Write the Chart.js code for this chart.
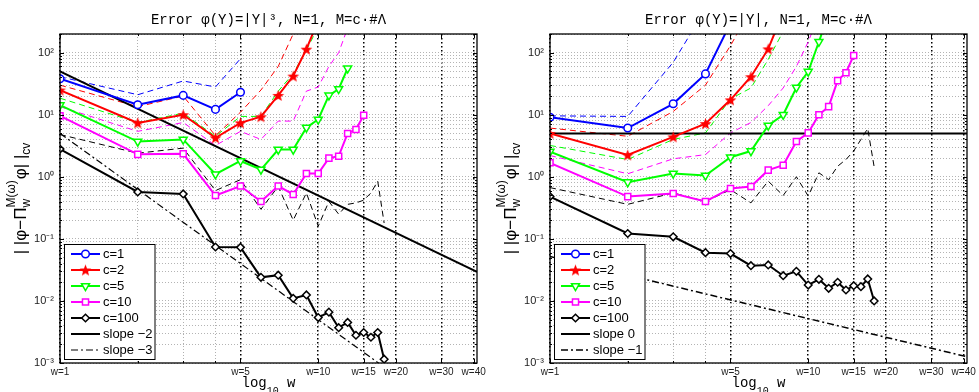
<!DOCTYPE html>
<html>
<head>
<meta charset="utf-8">
<title>Error vs w</title>
<script src="https://cdn.jsdelivr.net/npm/chart.js@4.4.1/dist/chart.umd.min.js"></script>
<style>
  html, body { margin: 0; padding: 0; background: #fff; overflow: hidden; }
  #wrap { position: relative; width: 979px; height: 392px; }
  #wrap canvas { position: absolute; top: 0; }
</style>
</head>
<body>
<div id="wrap">
  <canvas id="errCubic" width="490" height="392" style="left:0"></canvas>
  <canvas id="errAbs" width="489" height="392" style="left:490px"></canvas>
</div>
<script>
// polynomial degree w on the x axis
const wValues = [1, 2, 3, 4, 5, 6, 7, 8, 9, 10, 11, 12, 13, 14, 15, 16, 17, 18];

// left panel: phi(Y) = |Y|^3   (solid = marked series, dashed = companion curves)
const cubicC1   = [38, 14.5, 20.5, 12.2, 23];
const cubicC2   = [25, 7.4, 10, 4.25, 7.4, 9.3, 20.5, 42, 114, 330];
const cubicC5   = [14.3, 3.7, 4.0, 1.1, 1.8, 1.31, 2.75, 2.75, 6.2, 8.4, 20.5, 26, 56];
const cubicC10  = [9.6, 2.3, 2.35, 0.5, 0.71, 0.40, 0.71, 0.52, 1.13, 1.13, 2.0, 2.15, 5.0, 5.8, 9.8];
const cubicC100 = [2.8, 0.57, 0.53, 0.074, 0.073, 0.024, 0.026, 0.011, 0.0125, 0.0054, 0.0066, 0.0037, 0.0045, 0.0028, 0.0031, 0.0026, 0.0031, 0.00115];
const cubicC1d   = [41, 21, 35, 28, 80];
const cubicC2d   = [30, 13.5, 20, 4.6, 11, 25, 60, 200, 500];
const cubicC5d   = [18.5, 7.5, 10.6, 4.5, 9.4, 9.4, 24, 46, 110, 260];
const cubicC10d  = [13.5, 5.4, 7.5, 3.2, 5.4, 4.0, 7.9, 7.9, 24, 28, 60, 100, 250];
const cubicC100d = [4.8, 2.4, 2.9, 0.6, 0.9, 0.30, 0.70, 0.20, 0.55, 0.16, 0.40, 0.25, 0.36, 0.38, 0.42, 0.55, 0.85, 0.18];
const cubicSlopeX  = [1, 41.2];
const cubicSlopeM2 = [50, 0.0295];
const cubicSlopeM3 = [5, 0.0000715];

// right panel: phi(Y) = |Y|
const absC1   = [9.1, 6.1, 15, 45.5, 300];
const absC2   = [5.0, 2.25, 4.4, 7.2, 17.4, 41, 115, 450];
const absC5   = [2.55, 0.82, 1.13, 1.05, 2.07, 2.6, 6.7, 10, 27.5, 49.5, 150, 420];
const absC10  = [1.68, 0.48, 0.54, 0.40, 0.65, 0.70, 1.28, 1.54, 3.7, 5.1, 10, 13.5, 35.5, 47.5, 90];
const absC100 = [0.48, 0.122, 0.108, 0.060, 0.058, 0.037, 0.038, 0.0255, 0.030, 0.018, 0.0223, 0.016, 0.020, 0.015, 0.0176, 0.017, 0.0226, 0.010];
const absC1d   = [9.6, 9.4, 70, 500];
const absC2d   = [6.1, 4.5, 11.3, 30, 130, 500];
const absC5d   = [3.2, 1.9, 4.0, 5.1, 18, 27, 78, 220, 600];
const absC10d  = [2.2, 1.12, 1.95, 2.28, 5.1, 7.5, 14, 27, 60, 150, 400];
const absC100d = [0.67, 0.36, 0.55, 0.40, 0.62, 0.38, 0.85, 0.50, 1.0, 0.49, 1.16, 0.9, 1.48, 1.9, 2.6, 4.0, 6.0, 1.45];
const absSlopeX  = [1, 41.2];
const absSlope0  = [5, 5];
const absSlopeM1 = [0.052, 0.00126];

// axes
const xTickValues = [1, 5, 10, 15, 20, 30, 40];
const xTickLabels = ['w=1', 'w=5', 'w=10', 'w=15', 'w=20', 'w=30', 'w=40'];
const xMinorValues = [2, 3, 4];
const yTickValues = [1e-3, 1e-2, 1e-1, 1, 10, 100];
const yTickLabels = ['10\u207B\u00B3', '10\u207B\u00B2', '10\u207B\u00B9', '10\u2070', '10\u00B9', '10\u00B2'];

const SANS = '"Liberation Sans", Arial, Helvetica, sans-serif';
const MONO = '"Liberation Mono", "Courier New", monospace';

function makePentagram(color, size) {
  const c = document.createElement('canvas');
  c.width = size; c.height = size;
  const g = c.getContext('2d');
  const cx = size / 2, cy = size / 2 + 0.6, R = size / 2 - 0.3, r = R * 0.42;
  g.beginPath();
  for (let i = 0; i < 10; i++) {
    const a = -Math.PI / 2 + i * Math.PI / 5;
    const rr = i % 2 ? r : R;
    g.lineTo(cx + rr * Math.cos(a), cy + rr * Math.sin(a));
  }
  g.closePath();
  g.fillStyle = color;
  g.fill();
  return c;
}

const seriesStyle = [
  { label: 'c=1',   color: '#0000ff', pointStyle: 'circle',   radius: 3.8, rotation: 0 },
  { label: 'c=2',   color: '#ff0000', pointStyle: makePentagram('#ff0000', 13), radius: 5, rotation: 0 },
  { label: 'c=5',   color: '#00ff00', pointStyle: 'triangle', radius: 4.6, rotation: 180 },
  { label: 'c=10',  color: '#ff00ff', pointStyle: 'rect',     radius: 4.3, rotation: 0 },
  { label: 'c=100', color: '#000000', pointStyle: 'rectRot',  radius: 3.8, rotation: 0 }
];

function buildDatasets(solid, dashed, slopes) {
  const ds = [];
  solid.forEach((vals, k) => {
    const s = seriesStyle[k];
    ds.push({
      label: s.label,
      data: vals.map((v, i) => ({ x: wValues[i], y: v })),
      borderColor: s.color,
      backgroundColor: s.color,
      borderWidth: 2,
      pointStyle: s.pointStyle,
      pointRadius: s.radius,
      pointRotation: s.rotation,
      pointBorderColor: s.color,
      pointBackgroundColor: '#ffffff',
      pointBorderWidth: 1.5,
      inLegend: true
    });
  });
  slopes.forEach(sl => {
    ds.push({
      label: sl.label,
      data: sl.x.map((x, i) => ({ x: x, y: sl.y[i] })),
      borderColor: '#000',
      borderWidth: sl.width,
      borderDash: sl.dash,
      pointRadius: 0,
      inLegend: true
    });
  });
  dashed.forEach((vals, k) => {
    ds.push({
      label: seriesStyle[k].label + ' (dashed)',
      data: vals.map((v, i) => ({ x: wValues[i], y: v })),
      borderColor: seriesStyle[k].color,
      borderWidth: 1,
      borderDash: [6, 4],
      pointRadius: 0
    });
  });
  return ds;
}

function isMajorX(ctx) {
  return ctx.tick && xTickValues.indexOf(ctx.tick.value) >= 0;
}

function decorPlugin(title) {
  return {
    id: 'matlabDecor',
    afterDraw(chart) {
      const { ctx, chartArea: a, scales: { x, y } } = chart;
      ctx.save();

      // inner tick marks
      ctx.strokeStyle = '#000';
      ctx.lineWidth = 1;
      ctx.beginPath();
      xTickValues.concat(xMinorValues).forEach(v => {
        const len = xTickValues.indexOf(v) >= 0 ? 4 : 2;
        const px = Math.round(x.getPixelForValue(v)) + 0.5;
        ctx.moveTo(px, a.bottom); ctx.lineTo(px, a.bottom - len);
        ctx.moveTo(px, a.top); ctx.lineTo(px, a.top + len);
      });
      y.ticks.forEach(t => {
        const len = yTickValues.indexOf(t.value) >= 0 ? 4 : 2;
        const py = Math.round(y.getPixelForValue(t.value)) + 0.5;
        ctx.moveTo(a.left, py); ctx.lineTo(a.left + len, py);
        ctx.moveTo(a.right, py); ctx.lineTo(a.right - len, py);
      });
      ctx.stroke();

      // box
      ctx.lineWidth = 1.3;
      ctx.strokeRect(a.left, a.top, a.right - a.left, a.bottom - a.top);

      const cx = (a.left + a.right) / 2;
      ctx.fillStyle = '#000';

      // title
      ctx.font = '14px ' + MONO;
      ctx.textAlign = 'center';
      ctx.textBaseline = 'alphabetic';
      ctx.fillText(title, cx, 24);

      // x label: log_10 w
      ctx.textAlign = 'left';
      ctx.font = '14px ' + MONO;
      const wLog = ctx.measureText('log').width;
      const wSp = ctx.measureText(' w').width;
      ctx.font = '10px ' + MONO;
      const wTen = ctx.measureText('10').width;
      let px = cx - (wLog + wTen + wSp) / 2;
      ctx.font = '14px ' + MONO;
      ctx.fillText('log', px, 387);
      px += wLog;
      ctx.font = '10px ' + MONO;
      ctx.fillText('10', px, 394);
      px += wTen;
      ctx.font = '14px ' + MONO;
      ctx.fillText(' w', px, 387);

      // y label: ||phi - Pi_w^{M(omega)} phi||_cv
      const main = '17px ' + SANS, small = '12px ' + SANS;
      ctx.font = main;
      const w1 = ctx.measureText('| |\u03C6\u2212\u03A0').width;
      const w3 = ctx.measureText('\u03C6| |').width;
      ctx.font = small;
      const w2 = Math.max(ctx.measureText('w').width, ctx.measureText('M(\u03C9)').width) + 1;
      const w4 = ctx.measureText('cv').width;
      ctx.save();
      ctx.translate(26, (a.top + a.bottom) / 2);
      ctx.rotate(-Math.PI / 2);
      let p = -(w1 + w2 + w3 + w4) / 2;
      ctx.font = main;
      ctx.fillText('| |\u03C6\u2212\u03A0', p, 0);
      p += w1;
      ctx.font = small;
      ctx.fillText('w', p, 4);
      ctx.fillText('M(\u03C9)', p, -11);
      p += w2;
      ctx.font = main;
      ctx.fillText('\u03C6| |', p, 0);
      p += w3;
      ctx.font = small;
      ctx.fillText('cv', p, 4);
      ctx.restore();

      // legend box (lower left, inside axes)
      const entries = chart.data.datasets.filter(d => d.inLegend);
      const bx = a.left + 4, bw = 90.5, bh = 115, by = a.bottom - 4 - bh;
      ctx.fillStyle = '#fff';
      ctx.fillRect(bx, by, bw, bh);
      ctx.strokeStyle = '#000';
      ctx.lineWidth = 1;
      ctx.strokeRect(bx + 0.5, by + 0.5, bw, bh);
      ctx.font = '13px ' + SANS;
      ctx.textBaseline = 'middle';
      entries.forEach((d, i) => {
        const ly = by + 10 + i * 16;
        ctx.save();
        ctx.strokeStyle = d.borderColor;
        ctx.lineWidth = d.borderWidth;
        ctx.setLineDash(d.borderDash || []);
        ctx.beginPath();
        ctx.moveTo(bx + 7, ly);
        ctx.lineTo(bx + 36, ly);
        ctx.stroke();
        ctx.setLineDash([]);
        if (d.pointRadius && Chart.helpers && Chart.helpers.drawPoint) {
          ctx.fillStyle = d.pointBackgroundColor;
          ctx.strokeStyle = d.pointBorderColor;
          ctx.lineWidth = d.pointBorderWidth;
          Chart.helpers.drawPoint(ctx, {
            pointStyle: d.pointStyle, rotation: d.pointRotation,
            radius: d.pointRadius, borderWidth: d.pointBorderWidth
          }, bx + 21.5, ly);
        }
        ctx.restore();
        ctx.fillStyle = '#000';
        ctx.fillText(d.label, bx + 39, ly + 0.5);
      });

      ctx.restore();
    }
  };
}

function makeChart(id, title, padRight, datasets) {
  const yGrid = [];
  yTickValues.forEach(d => {
    for (let m = 1; m <= 9; m++) if (d * m <= 200 + 1e-9) yGrid.push(d * m);
  });
  return new Chart(document.getElementById(id), {
    type: 'line',
    data: { datasets: datasets },
    options: {
      responsive: false,
      animation: false,
      events: [],
      layout: { padding: { top: 34, right: padRight, left: 0, bottom: 0 } },
      plugins: { legend: { display: false }, title: { display: false }, tooltip: { enabled: false } },
      elements: { line: { tension: 0, fill: false } },
      scales: {
        x: {
          type: 'logarithmic',
          min: 1,
          max: 41.2,
          afterBuildTicks: s => {
            s.ticks = xTickValues.concat(xMinorValues).sort((p, q) => p - q).map(v => ({ value: v }));
          },
          afterFit: s => { s.height = 29; },
          ticks: {
            autoSkip: false,
            maxRotation: 0,
            padding: 3,
            color: '#222',
            font: { family: SANS, size: 10 },
            callback: v => {
              const i = xTickValues.indexOf(v);
              return i >= 0 ? xTickLabels[i] : '';
            }
          },
          grid: {
            drawTicks: false,
            color: c => isMajorX(c) ? '#000' : '#b0b0b0',
            lineWidth: c => isMajorX(c) ? 1.5 : 1
          },
          border: { display: false, dash: c => isMajorX(c) ? [1.5, 2.5] : [1, 2] }
        },
        y: {
          type: 'logarithmic',
          min: 1e-3,
          max: 200,
          afterBuildTicks: s => { s.ticks = yGrid.map(v => ({ value: v })); },
          afterFit: s => { s.width = 60; },
          ticks: {
            autoSkip: false,
            padding: 6,
            color: '#222',
            font: { family: SANS, size: 11 },
            callback: v => {
              const i = yTickValues.findIndex(t => Math.abs(t - v) < t * 1e-6);
              return i >= 0 ? yTickLabels[i] : '';
            }
          },
          grid: { drawTicks: false, color: '#b4b4b4', lineWidth: 1 },
          border: { display: false, dash: [1, 2] }
        }
      }
    },
    plugins: [decorPlugin(title)]
  });
}

makeChart('errCubic', 'Error \u03C6(Y)=|Y|\u00B3, N=1, M=c\u00B7#\u039B', 13,
  buildDatasets(
    [cubicC1, cubicC2, cubicC5, cubicC10, cubicC100],
    [cubicC1d, cubicC2d, cubicC5d, cubicC10d, cubicC100d],
    [
      { label: 'slope \u22122', x: cubicSlopeX, y: cubicSlopeM2, width: 2, dash: [] },
      { label: 'slope \u22123', x: cubicSlopeX, y: cubicSlopeM3, width: 1.2, dash: [7, 3, 2, 3] }
    ]));

makeChart('errAbs', 'Error \u03C6(Y)=|Y|, N=1, M=c\u00B7#\u039B', 12,
  buildDatasets(
    [absC1, absC2, absC5, absC10, absC100],
    [absC1d, absC2d, absC5d, absC10d, absC100d],
    [
      { label: 'slope 0', x: absSlopeX, y: absSlope0, width: 2, dash: [] },
      { label: 'slope \u22121', x: absSlopeX, y: absSlopeM1, width: 1.5, dash: [7, 3, 2, 3] }
    ]));
</script>
</body>
</html>
